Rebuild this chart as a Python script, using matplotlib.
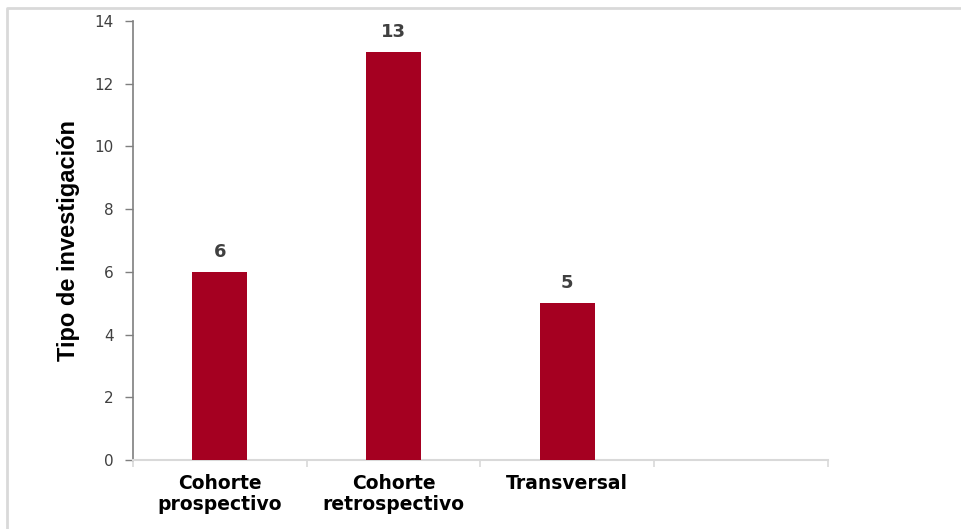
import matplotlib
matplotlib.use("Agg")
import matplotlib.pyplot as plt
from matplotlib.lines import Line2D

categorias = ["Cohorte\nprospectivo", "Cohorte\nretrospectivo", "Transversal", ""]
valores = [6, 13, 5]
y_ticks = [0, 2, 4, 6, 8, 10, 12, 14]

color_barra = "#A50021"
gris_texto = "#404040"

fig = plt.figure(figsize=(9.62, 5.29), dpi=100)
ax = fig.add_axes([133 / 962, 1 - 460 / 529, 695 / 962, 439 / 529])

# marco de la figura: solo borde izquierdo y superior visibles
x0, y0 = 7 / 962, 1 - 8 / 529
fig.lines.append(Line2D([x0, x0, 1.0], [0.0, y0, y0], transform=fig.transFigure,
                        color="#d9d9d9", linewidth=2, zorder=0))

pos = list(range(len(valores)))
barras = ax.bar(pos, valores, width=0.316, color=color_barra, zorder=3)
for b, v in zip(barras, valores):
    ax.text(b.get_x() + b.get_width() / 2, v + 0.35, str(v), ha="center", va="bottom",
            fontsize=13, fontweight="bold", color=gris_texto, family="DejaVu Sans")

ax.set_xlim(-0.5, len(categorias) - 0.5)
ax.set_ylim(0, 14)
ax.set_yticks(y_ticks)
ax.tick_params(axis="y", direction="out", length=6, width=1, color="#7f7f7f",
               labelsize=11, labelcolor=gris_texto, pad=8)

# ticks mayores en los limites de categoria, etiquetas en el centro
ax.set_xticks([i - 0.5 for i in range(len(categorias) + 1)])
ax.set_xticklabels([])
ax.tick_params(axis="x", which="major", direction="out", length=5, width=1.2, color="#d9d9d9")
ax.set_xticks(range(len(categorias)), minor=True)
ax.set_xticklabels(categorias, minor=True, fontsize=13.5, fontweight="bold",
                   family="DejaVu Sans", linespacing=1.15)
ax.tick_params(axis="x", which="minor", length=0, pad=10)

for s in ["top", "right"]:
    ax.spines[s].set_visible(False)
ax.spines["left"].set_color("#7f7f7f")
ax.spines["left"].set_linewidth(1.2)
ax.spines["bottom"].set_color("#d9d9d9")
ax.spines["bottom"].set_linewidth(1.5)

ax.set_ylabel("Tipo de investigación", fontsize=17, fontweight="bold",
              family="Liberation Sans")
ax.yaxis.set_label_coords(-0.0763, 0.5)

fig.savefig("out.png", dpi=100)
